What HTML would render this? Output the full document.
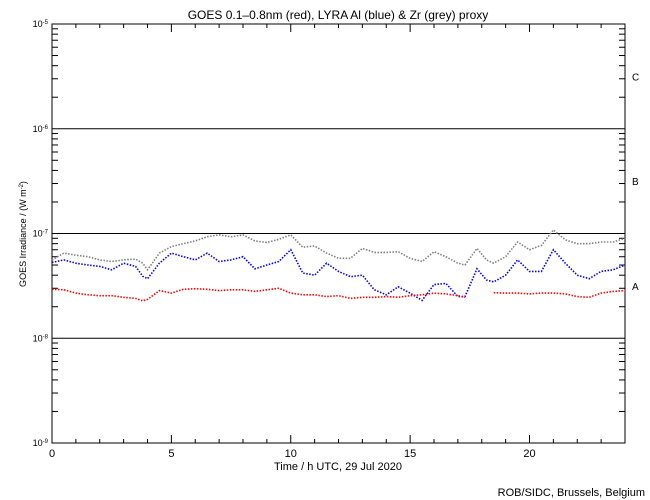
<!DOCTYPE html>
<html><head><meta charset="utf-8"><style>
html,body{margin:0;padding:0;background:#fff;}
svg{display:block;font-family:"Liberation Sans",sans-serif;}
</style></head><body>
<svg id="chart" width="650" height="500" viewBox="0 0 650 500" xmlns="http://www.w3.org/2000/svg">
<rect width="650" height="500" fill="#fff"/>
<text x="338" y="19" text-anchor="middle" font-size="12">GOES 0.1–0.8nm (red), LYRA Al (blue) &amp; Zr (grey) proxy</text>
<text transform="translate(26,234) rotate(-90)" text-anchor="middle" font-size="9">GOES Irradiance / (W m<tspan baseline-shift="super" font-size="6">-2</tspan>)</text>
<text x="338" y="470" text-anchor="middle" font-size="11">Time / h UTC, 29 Jul 2020</text>
<text x="645" y="496" text-anchor="end" font-size="11">ROB/SIDC, Brussels, Belgium</text>
<g id="axes"></g>
<g id="series"></g>
</svg>
<script>
const hoursRed=[0,0.5,1,1.5,2,2.5,3,3.5,3.8,4,4.5,5,5.5,6,6.5,7,7.5,8,8.5,9,9.5,10,10.5,11,11.5,12,12.5,13,13.5,14,14.5,15,15.5,16,16.5,17,17.3];
const red=[2.93e-8,2.9e-8,2.7e-8,2.6e-8,2.55e-8,2.55e-8,2.46e-8,2.4e-8,2.28e-8,2.35e-8,2.85e-8,2.7e-8,2.93e-8,2.97e-8,2.93e-8,2.85e-8,2.9e-8,2.9e-8,2.8e-8,2.9e-8,3.0e-8,2.7e-8,2.6e-8,2.6e-8,2.5e-8,2.55e-8,2.4e-8,2.46e-8,2.46e-8,2.5e-8,2.46e-8,2.55e-8,2.6e-8,2.7e-8,2.65e-8,2.55e-8,2.46e-8];
const hoursRed2=[18.5,19,19.5,20,20.5,21,21.5,22,22.5,23,23.5,24];
const red2=[2.72e-8,2.7e-8,2.7e-8,2.65e-8,2.7e-8,2.7e-8,2.65e-8,2.5e-8,2.46e-8,2.7e-8,2.8e-8,2.85e-8];
const hours=[0,0.5,1,1.5,2,2.5,3,3.5,3.8,4,4.5,5,5.5,6,6.5,7,7.5,8,8.5,9,9.5,10,10.5,11,11.5,12,12.5,13,13.5,14,14.5,15,15.5,16,16.5,17,17.3,17.8,18.2,18.5,19,19.5,20,20.5,21,21.5,22,22.5,23,23.5,24];
const grey=[5.6e-8,6.5e-8,6.2e-8,6.0e-8,5.6e-8,5.4e-8,5.6e-8,5.7e-8,5.2e-8,4.5e-8,6.5e-8,7.5e-8,8.0e-8,8.5e-8,9.3e-8,9.7e-8,9.3e-8,9.7e-8,8.5e-8,8.2e-8,8.8e-8,9.7e-8,7.4e-8,7.6e-8,6.5e-8,5.8e-8,5.8e-8,7.2e-8,6.6e-8,6.6e-8,6.7e-8,5.8e-8,5.4e-8,6.7e-8,6.0e-8,5.2e-8,5.0e-8,7.2e-8,5.6e-8,5.2e-8,6.0e-8,8.3e-8,7.0e-8,7.7e-8,1.08e-7,8.7e-8,8.0e-8,8.0e-8,8.3e-8,8.3e-8,9.0e-8];
const blue=[5.3e-8,5.6e-8,5.2e-8,5.0e-8,4.85e-8,4.5e-8,5.2e-8,4.85e-8,3.9e-8,3.7e-8,5.2e-8,6.5e-8,6.0e-8,5.6e-8,6.5e-8,5.4e-8,5.6e-8,6.0e-8,4.6e-8,5.0e-8,5.4e-8,7.0e-8,4.2e-8,4.0e-8,5.2e-8,4.35e-8,3.87e-8,4.0e-8,2.9e-8,2.6e-8,3.1e-8,2.7e-8,2.3e-8,3.25e-8,3.34e-8,2.5e-8,2.5e-8,4.6e-8,3.6e-8,3.45e-8,4.0e-8,5.6e-8,4.35e-8,4.35e-8,7.0e-8,5.2e-8,4.0e-8,3.7e-8,4.35e-8,4.5e-8,5.0e-8];
const xTicks=[0,5,10,15,20];
const yDecades=[-9,-8,-7,-6,-5];
const flareClasses=["A","B","C"];

const X0=52,X1=625,YT=24,YB=443;
const xS=h=>X0+(X1-X0)*h/24;
const yS=v=>YB-(Math.log10(v)+9)*(YB-YT)/4;
const NS="http://www.w3.org/2000/svg";
function mk(tag,attrs,parent){const e=document.createElementNS(NS,tag);for(const k in attrs)e.setAttribute(k,attrs[k]);parent.appendChild(e);return e;}
const axes=document.getElementById('axes');
const frame=mk('rect',{x:X0,y:YT,width:X1-X0,height:YB-YT,fill:'none',stroke:'#000','stroke-width':1},axes);


yDecades.forEach((d,i)=>{
  const y=yS(Math.pow(10,d));
  if(i>0&&i<yDecades.length-1){const l=mk('line',{x1:X0,x2:X1,y1:y,y2:y,stroke:'#000','stroke-width':1},axes);
  
  }
  const t=mk('text',{x:X0-4,y:y+3,'text-anchor':'end','font-size':9},axes);
  
  
  t.textContent='10';
  const s=mk('tspan',{'baseline-shift':'super','font-size':6},t);s.textContent=String(d);
  if(i<yDecades.length-1){for(let m=2;m<=9;m++){const yy=yS(m*Math.pow(10,d));
    mk('line',{x1:X0,x2:X0+6,y1:yy,y2:yy,stroke:'#000'},axes);
    mk('line',{x1:X1,x2:X1-6,y1:yy,y2:yy,stroke:'#000'},axes);}}
});
flareClasses.forEach((c,i)=>{
  const y=(yS(Math.pow(10,-8+i))+yS(Math.pow(10,-7+i)))/2;
  const t=mk('text',{x:632,y:y+4,'font-size':10},axes);
  
  
  t.textContent=c;
});
for(let h=0;h<=24;h++){const x=xS(h);const L=h%5===0?8:4;
  mk('line',{x1:x,x2:x,y1:YB,y2:YB-L,stroke:'#000'},axes);
  mk('line',{x1:x,x2:x,y1:YT,y2:YT+L,stroke:'#000'},axes);}
xTicks.forEach(h=>{const t=mk('text',{x:xS(h),y:YB+14,'text-anchor':'middle','font-size':11},axes);
  
  
  t.textContent=String(h);});
const ser=document.getElementById('series');
function draw(hs,vs,color,name){
  const pts=hs.map((h,i)=>xS(h).toFixed(1)+','+yS(vs[i]).toFixed(1)).join(' ');
  const p=mk('polyline',{points:pts,fill:'none',stroke:color,'stroke-width':1.6,'stroke-dasharray':'1.5 1.5'},ser);
  
  
}
draw(hours,grey,'#808080','zr-proxy-series');
draw(hours,blue,'#0000ff','al-proxy-series');
draw(hoursRed,red,'#ff0000','goes-series');
draw(hoursRed2,red2,'#ff0000','goes-series-late');
</script>
</body></html>
